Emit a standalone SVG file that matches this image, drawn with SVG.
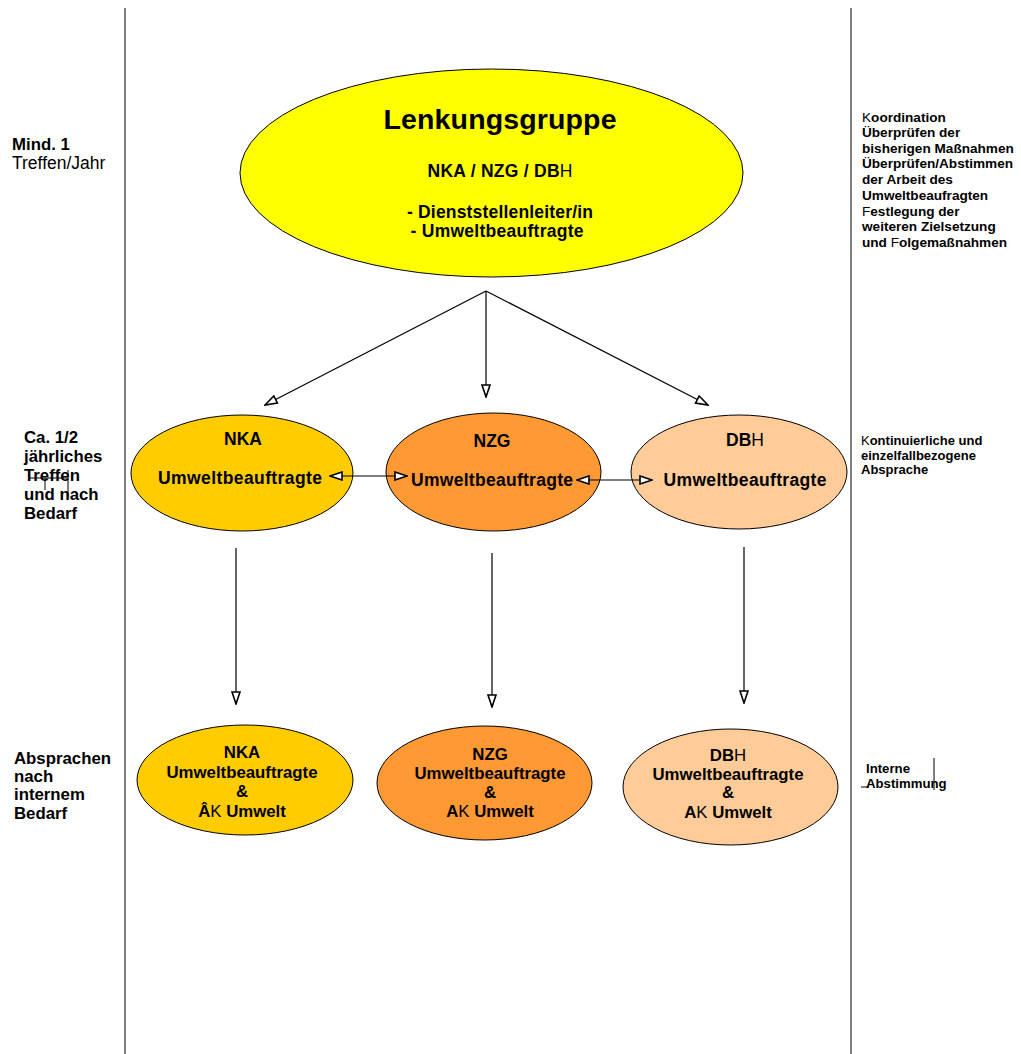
<svg xmlns="http://www.w3.org/2000/svg" width="1021" height="1054" viewBox="0 0 1021 1054">
<style>
text{font-family:"Liberation Sans",Arial,sans-serif;fill:#000}
.b{font-weight:bold}
.n{font-weight:normal}
.node{stroke:#000;stroke-width:1}
.conn line{stroke:#000;stroke-width:1.2;fill:none}
.side{font-size:13.6px;font-weight:bold}
.lab{font-size:16.8px;font-weight:bold}
.mid{font-size:17.5px;font-weight:bold;text-anchor:middle}
.bot{font-size:16.8px;font-weight:bold;text-anchor:middle}
</style>
<defs>
<marker id="ah" viewBox="0 0 14 10" refX="13" refY="5" markerWidth="14" markerHeight="10" markerUnits="userSpaceOnUse" orient="auto-start-reverse">
<path d="M1,1 L13,5 L1,9 z" fill="#fff" stroke="#000" stroke-width="1.6"/>
</marker>
</defs>
<rect width="1021" height="1054" fill="#fff"/>
<g id="borders">
<line x1="125" y1="8" x2="125" y2="1054" stroke="#000" stroke-width="1"/>
<line x1="851" y1="8" x2="851" y2="1054" stroke="#000" stroke-width="1"/>
</g>
<g id="left-labels" class="lab">
<text x="12" y="150">Mind. 1</text>
<text x="12" y="169" style="font-weight:normal;font-size:17.5px">Treffen/Jahr</text>
<text x="24" y="443">Ca. 1/2</text>
<text x="24" y="462">jährliches</text>
<text x="24" y="481">Treffen</text>
<text x="24" y="500">und nach</text>
<text x="24" y="519">Bedarf</text>
<text x="14" y="764">Absprachen</text>
<text x="14" y="782">nach</text>
<text x="14" y="800">internem</text>
<text x="14" y="819">Bedarf</text>
</g>
<g id="artifacts" stroke="#000" stroke-width="1" fill="none">
<line x1="30" y1="478" x2="68" y2="478"/>
<line x1="45" y1="478" x2="45" y2="490"/>
<line x1="68" y1="470" x2="68" y2="497"/>
<line x1="934" y1="758" x2="934" y2="790"/>
<line x1="861" y1="787" x2="869" y2="787"/>
</g>
<g id="right-labels" class="side">
<text x="862" y="122"><tspan class="n">K</tspan>oordination</text>
<text x="862" y="137">Überprüfen der</text>
<text x="862" y="153">bisherigen Maßnahmen</text>
<text x="862" y="168">Überprüfen/Abstimmen</text>
<text x="862" y="184">der Arbeit des</text>
<text x="862" y="200">Umweltbeaufragten</text>
<text x="862" y="216"><tspan class="n">F</tspan>estlegung der</text>
<text x="862" y="231">weiteren Zielsetzung</text>
<text x="862" y="247">und <tspan class="n">F</tspan>olgemaßnahmen</text>
<text x="861" y="445" style="font-size:13px"><tspan class="n">K</tspan>ontinuierliche und</text>
<text x="861" y="460" style="font-size:13px">einzelfallbezogene</text>
<text x="861" y="474" style="font-size:13px">Absprache</text>
<text x="866" y="773" style="font-size:13.2px">Interne</text>
<text x="866" y="788" style="font-size:13.2px">Abstimmung</text>
</g>
<g id="node-lenkungsgruppe">
<ellipse class="node" cx="491.5" cy="173" rx="251.5" ry="104" fill="#FFFF00"/>
<text x="500" y="129" class="b" text-anchor="middle" font-size="28.5" textLength="233">Lenkungsgruppe</text>
<text x="500" y="177" class="b" text-anchor="middle" font-size="17.5" textLength="145">NKA / NZG / DB<tspan class="n">H</tspan></text>
<text x="500" y="218" class="b" text-anchor="middle" font-size="17.5" textLength="186">- Dienststellenleiter/in</text>
<text x="497" y="237" class="b" text-anchor="middle" font-size="17.5" textLength="173">- Umweltbeauftragte</text>
</g>
<g id="node-nka-mid">
<ellipse class="node" cx="242" cy="473" rx="111" ry="58" fill="#FFCC00"/>
<text x="243" y="445" class="mid">NKA</text>
<text x="240" y="484" class="mid" textLength="164">Umweltbeauftragte</text>
</g>
<g id="node-nzg-mid">
<ellipse class="node" cx="493.5" cy="472" rx="107.5" ry="59" fill="#FF9933"/>
<text x="492" y="447" class="mid">NZG</text>
<text x="492" y="486" class="mid" textLength="162">Umweltbeauftragte</text>
</g>
<g id="node-dbh-mid">
<ellipse class="node" cx="739" cy="472" rx="108" ry="57" fill="#FFCC99"/>
<text x="745" y="446" class="mid">DB<tspan class="n">H</tspan></text>
<text x="745" y="486" class="mid" textLength="163">Umweltbeauftragte</text>
</g>
<g id="node-nka-bottom">
<ellipse class="node" cx="245" cy="780" rx="108" ry="55" fill="#FFCC00"/>
<text x="242" y="758" class="bot">NKA</text>
<text x="242" y="778" class="bot" textLength="151">Umweltbeauftragte</text>
<text x="242" y="797" class="bot">&amp;</text>
<text x="242" y="817" class="bot">Â<tspan class="n">K</tspan> Umwelt</text>
</g>
<g id="node-nzg-bottom">
<ellipse class="node" cx="484.5" cy="783" rx="107.5" ry="57" fill="#FF9933"/>
<text x="490" y="760" class="bot">NZG</text>
<text x="490" y="779" class="bot" textLength="151">Umweltbeauftragte</text>
<text x="490" y="798" class="bot">&amp;</text>
<text x="490" y="817" class="bot">A<tspan class="n">K</tspan> Umwelt</text>
</g>
<g id="node-dbh-bottom">
<ellipse class="node" cx="730.5" cy="787" rx="107.5" ry="58" fill="#FFCC99"/>
<text x="728" y="761" class="bot">DB<tspan class="n">H</tspan></text>
<text x="728" y="780" class="bot" textLength="151">Umweltbeauftragte</text>
<text x="728" y="798" class="bot">&amp;</text>
<text x="728" y="818" class="bot">A<tspan class="n">K</tspan> Umwelt</text>
</g>
<g id="connectors" class="conn">
<line x1="486" y1="291" x2="265" y2="405" marker-end="url(#ah)"/>
<line x1="486" y1="291" x2="486" y2="397" marker-end="url(#ah)"/>
<line x1="486" y1="291" x2="708" y2="405" marker-end="url(#ah)"/>
<line x1="330" y1="476" x2="407" y2="476" marker-start="url(#ah)" marker-end="url(#ah)"/>
<line x1="577" y1="480" x2="652" y2="480" marker-start="url(#ah)" marker-end="url(#ah)"/>
<line x1="236" y1="548" x2="236" y2="704" marker-end="url(#ah)"/>
<line x1="492" y1="553" x2="492" y2="707" marker-end="url(#ah)"/>
<line x1="744" y1="547" x2="744" y2="703" marker-end="url(#ah)"/>
</g>
</svg>
